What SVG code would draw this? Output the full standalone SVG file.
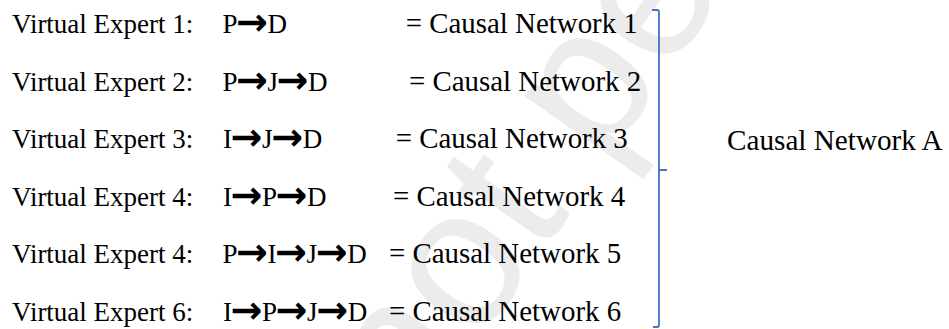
<svg xmlns="http://www.w3.org/2000/svg" width="949" height="329" viewBox="0 0 949 329">
  <style>
    .t { font-family: "Liberation Serif", "Times New Roman", serif; font-size: 27px; fill: #000; }
    .r { font-size: 28.9px; }
    .a { font-family: "DejaVu Sans", sans-serif; font-weight: bold; font-size: 38px; }
    .wm { font-family: "Liberation Sans", Arial, sans-serif; font-size: 197px; fill: #ececec; }
    .brace { fill: none; stroke: #4472C4; stroke-width: 1.8; }
  </style>

  <!-- faint diagonal watermark behind everything -->
  <g id="watermark">
    <text class="wm" transform="translate(414,436) rotate(-55)">not pe</text>
  </g>

  <g id="expert1">
    <text class="t" x="12" y="33">Virtual Expert 1:</text>
    <text class="t" y="33"><tspan x="222.5">P</tspan><tspan class="a" x="236" dy="2">→</tspan><tspan x="267.5" dy="-2">D</tspan></text>
    <text class="t r" x="405.7" y="33">= Causal Network 1</text>
  </g>

  <g id="expert2">
    <text class="t" x="12" y="91">Virtual Expert 2:</text>
    <text class="t" y="91"><tspan x="222.5">P</tspan><tspan class="a" x="236" dy="2">→</tspan><tspan x="267.5" dy="-2">J</tspan><tspan class="a" x="276.6" dy="2">→</tspan><tspan x="308.1" dy="-2">D</tspan></text>
    <text class="t r" x="409" y="91">= Causal Network 2</text>
  </g>

  <g id="expert3">
    <text class="t" x="12" y="148">Virtual Expert 3:</text>
    <text class="t" y="148"><tspan x="223">I</tspan><tspan class="a" x="230.5" dy="2">→</tspan><tspan x="262.1" dy="-2">J</tspan><tspan class="a" x="271.2" dy="2">→</tspan><tspan x="302.7" dy="-2">D</tspan></text>
    <text class="t r" x="395.7" y="148">= Causal Network 3</text>
  </g>

  <g id="expert4">
    <text class="t" x="12" y="206">Virtual Expert 4:</text>
    <text class="t" y="206"><tspan x="223">I</tspan><tspan class="a" x="230.5" dy="2">→</tspan><tspan x="262.1" dy="-2">P</tspan><tspan class="a" x="275.6" dy="2">→</tspan><tspan x="307.1" dy="-2">D</tspan></text>
    <text class="t r" x="393" y="206">= Causal Network 4</text>
  </g>

  <g id="expert5">
    <text class="t" x="12" y="263">Virtual Expert 4:</text>
    <text class="t" y="263"><tspan x="222.5">P</tspan><tspan class="a" x="236" dy="2">→</tspan><tspan x="267.5" dy="-2">I</tspan><tspan class="a" x="275" dy="2">→</tspan><tspan x="306.6" dy="-2">J</tspan><tspan class="a" x="315.7" dy="2">→</tspan><tspan x="347.2" dy="-2">D</tspan></text>
    <text class="t r" x="389" y="263">= Causal Network 5</text>
  </g>

  <g id="expert6">
    <text class="t" x="12" y="321">Virtual Expert 6:</text>
    <text class="t" y="321"><tspan x="223">I</tspan><tspan class="a" x="230.5" dy="2">→</tspan><tspan x="262.1" dy="-2">P</tspan><tspan class="a" x="275.6" dy="2">→</tspan><tspan x="307.1" dy="-2">J</tspan><tspan class="a" x="316.2" dy="2">→</tspan><tspan x="347.7" dy="-2">D</tspan></text>
    <text class="t r" x="389" y="321">= Causal Network 6</text>
  </g>

  <!-- right brace grouping all six networks -->
  <g id="connectors">
    <path class="brace" d="M652,10 H657 Q659,10 659,12 V170 H667 M659,170 V325 Q659,327 657,327 H653"/>
  </g>

  <g id="networkA">
    <text class="t r" x="727" y="150" style="font-size:29.2px">Causal Network A</text>
  </g>
</svg>
